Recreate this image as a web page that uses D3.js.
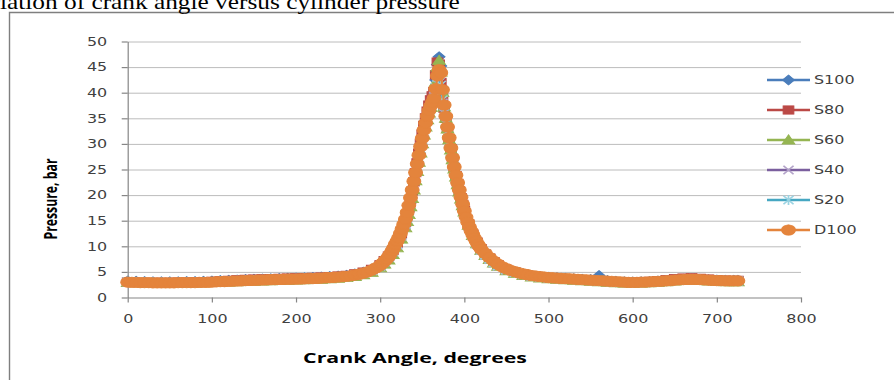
<!DOCTYPE html>
<html>
<head>
<meta charset="utf-8">
<script src="https://cdn.jsdelivr.net/npm/d3@7"></script>
<style>
  body { margin: 0; background: #fff; overflow: hidden; }
  svg { display: block; }
</style>
</head>
<body>
<div id="chart"></div>
<script>
// data
const angleD = [0,5,10,15,20,25,30,35,40,45,50,55,60,65,70,75,80,85,90,95,100,
  105,110,115,120,125,130,135,140,145,150,155,160,165,170,175,180,185,190,195,
  200,205,210,215,220,225,230,235,240,245,250,255,260,265,270,275,280,285,290,295,300,
  302,304,306,308,310,312,314,316,318,320,322,324,326,328,330,332,334,336,338,340,
  342,344,346,348,350,352,354,356,358,360,362,364,366,368,370,372,374,376,378,380,
  382,384,386,388,390,392,394,396,398,400,402,404,406,408,410,412,414,416,418,420,
  425,430,435,440,445,450,455,460,465,470,475,480,485,490,495,500,505,510,515,520,
  525,530,535,540,545,550,555,560,565,570,575,580,585,590,595,600,605,610,615,620,
  625,630,635,640,645,650,655,660,665,670,675,680,685,690,695,700,705,710,715,720,725];

const D100 = [3.0,2.95,2.95,2.9,2.9,2.9,2.85,2.85,2.85,2.85,2.85,2.85,2.9,2.9,2.9,2.9,2.9,2.95,2.95,2.95,3.0,
  3.05,3.1,3.12,3.15,3.2,3.22,3.25,3.3,3.32,3.35,3.4,3.42,3.45,3.48,3.5,3.52,3.55,3.57,3.58,
  3.6,3.62,3.65,3.68,3.7,3.75,3.8,3.85,3.9,3.95,4.0,4.05,4.15,4.25,4.4,4.55,4.75,5.0,5.35,5.8,6.3,
  6.6,6.9,7.25,7.6,8.0,8.5,9.1,9.7,10.4,11.0,11.7,12.5,13.4,14.3,15.3,16.6,18.0,19.5,21.0,22.7,
  24.4,26.1,27.8,29.5,31.1,32.7,34.1,35.4,36.5,37.4,38.1,38.9,40.8,43.3,44.5,43.9,40.6,37.6,35.4,33.3,
  31.2,29.2,27.3,25.5,23.9,22.4,21.0,19.6,18.2,16.9,15.7,14.7,13.8,13.0,12.3,11.6,11.0,10.4,9.9,9.4,
  8.6,7.8,7.1,6.5,6.0,5.6,5.3,5.05,4.8,4.6,4.45,4.3,4.2,4.1,4.0,3.9,3.85,3.8,3.75,3.7,
  3.65,3.6,3.55,3.5,3.45,3.4,3.35,3.3,3.25,3.2,3.15,3.1,3.05,3.0,2.95,2.95,2.95,3.0,3.0,3.05,
  3.1,3.15,3.2,3.25,3.3,3.4,3.45,3.5,3.55,3.55,3.55,3.5,3.45,3.4,3.35,3.3,3.3,3.25,3.25,3.25,3.25];

const angleS = [0,10,20,30,40,50,60,70,80,90,100,
  110,120,130,140,150,160,170,180,190,200,
  210,220,230,240,250,260,270,280,290,300,
  305,310,315,320,325,330,
  332,334,336,338,340,342,344,346,348,350,352,354,356,358,360,362,364,366,368,370,
  372,374,376,378,380,382,384,386,388,390,392,394,396,398,400,
  405,410,415,420,425,430,435,440,
  450,460,470,480,490,500,510,520,530,540,550,560,570,580,590,600,610,620,630,640,
  650,660,670,680,690,700,710,720,725];

const S100 = [3.2,3.15,3.1,3.05,3.05,3.05,3.05,3.1,3.1,3.15,3.2,
  3.3,3.35,3.4,3.5,3.55,3.6,3.65,3.7,3.75,3.8,
  3.85,3.9,4.0,4.1,4.2,4.35,4.6,4.95,5.55,6.5,
  7.3,8.2,9.4,10.9,12.8,15.2,
  16.4,17.8,19.3,20.9,22.6,24.3,26.0,27.8,29.6,31.3,32.9,34.3,35.6,36.7,37.7,38.6,40.0,42.5,45.5,47.0,
  45.2,41.0,37.8,35.5,33.4,31.3,29.3,27.4,25.6,24.0,22.5,21.1,19.7,18.4,17.1,
  14.5,12.5,10.9,9.6,8.6,7.8,7.1,6.5,
  5.6,5.05,4.6,4.3,4.1,3.95,3.85,3.75,3.65,3.55,3.5,4.3,3.3,3.15,3.05,3.0,3.05,3.1,3.2,3.3,
  3.45,3.55,3.6,3.55,3.45,3.4,3.35,3.35,3.35];

const S80 = [3.05,3.0,2.95,2.95,2.95,2.95,3.0,3.0,3.05,3.1,3.15,
  3.25,3.35,3.45,3.55,3.6,3.65,3.7,3.75,3.8,3.85,
  3.9,3.95,4.0,4.1,4.2,4.35,4.6,4.95,5.5,6.4,
  7.2,8.1,9.2,10.6,12.4,14.7,
  16.0,17.5,19.1,20.8,22.6,24.4,26.3,28.2,30.1,31.9,33.6,35.1,36.4,37.6,38.6,39.4,40.2,43.5,46.0,45.6,
  42.0,39.0,37.0,35.0,33.0,31.0,29.1,27.2,25.4,23.8,22.3,20.9,19.5,18.2,17.0,
  14.4,12.4,10.8,9.5,8.5,7.7,7.0,6.4,
  5.5,5.0,4.55,4.25,4.05,3.9,3.8,3.7,3.6,3.5,3.4,3.3,3.2,3.1,3.05,3.0,3.05,3.15,3.3,3.5,
  3.7,3.8,3.85,3.75,3.6,3.45,3.4,3.35,3.35];

const S60 = [2.9,2.85,2.8,2.8,2.75,2.75,2.75,2.8,2.8,2.85,2.9,
  2.95,3.0,3.05,3.1,3.15,3.2,3.25,3.3,3.35,3.4,
  3.45,3.5,3.55,3.65,3.75,3.9,4.1,4.4,4.9,5.8,
  6.5,7.3,8.4,9.7,11.4,13.6,
  14.8,16.2,17.7,19.3,21.0,22.8,24.6,26.4,28.2,30.0,31.7,33.3,34.7,36.0,37.1,38.0,39.3,42.0,45.0,46.3,
  44.0,40.0,37.2,35.0,32.9,30.8,28.8,26.9,25.1,23.5,22.0,20.6,19.2,17.9,16.7,
  14.1,12.1,10.5,9.2,8.2,7.4,6.7,6.1,
  5.2,4.7,4.3,4.0,3.8,3.65,3.55,3.45,3.35,3.25,3.15,3.05,2.95,2.85,2.8,2.75,2.8,2.85,2.95,3.05,
  3.2,3.3,3.35,3.3,3.2,3.1,3.05,3.05,3.05];

const S40 = [3.0,2.95,2.9,2.9,2.85,2.85,2.85,2.9,2.9,2.95,3.0,
  3.1,3.15,3.2,3.3,3.35,3.4,3.45,3.5,3.55,3.6,
  3.65,3.7,3.75,3.85,3.95,4.1,4.35,4.65,5.2,6.1,
  6.9,7.8,8.9,10.3,12.0,14.2,
  15.5,16.9,18.4,20.0,21.7,23.4,25.2,27.0,28.8,30.5,32.1,33.6,35.0,36.2,37.3,38.3,39.4,40.6,41.8,42.0,
  40.5,38.0,36.0,34.0,32.0,30.1,28.2,26.4,24.7,23.1,21.6,20.2,18.9,17.6,16.4,
  13.9,12.0,10.4,9.2,8.2,7.4,6.7,6.1,
  5.3,4.8,4.4,4.1,3.9,3.75,3.65,3.55,3.45,3.35,3.25,3.15,3.05,2.95,2.9,2.85,2.9,2.95,3.05,3.2,
  3.35,3.45,3.5,3.45,3.35,3.25,3.2,3.2,3.2];

const S20 = [3.1,3.05,3.0,2.95,2.95,2.9,2.9,2.95,2.95,3.0,3.05,
  3.15,3.2,3.25,3.35,3.4,3.45,3.5,3.55,3.6,3.65,
  3.7,3.75,3.8,3.9,4.0,4.15,4.4,4.7,5.25,6.2,
  7.0,7.9,9.0,10.4,12.2,14.4,
  15.7,17.1,18.6,20.2,21.9,23.6,25.4,27.2,29.0,30.7,32.3,33.8,35.1,36.3,37.3,38.1,39.0,41.0,43.0,43.5,
  41.5,38.6,36.4,34.3,32.3,30.3,28.4,26.6,24.9,23.3,21.8,20.4,19.0,17.7,16.5,
  14.0,12.1,10.5,9.3,8.3,7.5,6.8,6.2,
  5.4,4.9,4.5,4.2,4.0,3.8,3.7,3.6,3.5,3.4,3.3,3.2,3.1,3.0,2.95,2.9,2.95,3.0,3.1,3.25,
  3.4,3.5,3.55,3.5,3.4,3.3,3.25,3.25,3.25];

const seriesNames = ["S100", "S80", "S60", "S40", "S20", "D100"];
const xTicks = [0, 100, 200, 300, 400, 500, 600, 700, 800];
const yTicks = [0, 5, 10, 15, 20, 25, 30, 35, 40, 45, 50];
const titleText = "Variation of crank angle versus cylinder pressure";
const xTitle = "Crank Angle, degrees";
const yTitle = "Pressure, bar";

// build series from the arrays above
const series = [
  { name: seriesNames[0], xs: angleS, ys: S100, color: "#4a7dbb", mcolor: "#4a7dbb", marker: "diamond" },
  { name: seriesNames[1], xs: angleS, ys: S80,  color: "#bb4946", mcolor: "#bb4946", marker: "square" },
  { name: seriesNames[2], xs: angleS, ys: S60,  color: "#95b552", mcolor: "#95b552", marker: "triangle" },
  { name: seriesNames[3], xs: angleS, ys: S40,  color: "#7b5f9e", mcolor: "#b3a3c9", marker: "x" },
  { name: seriesNames[4], xs: angleS, ys: S20,  color: "#46a7c2", mcolor: "#9ad3e2", marker: "star" },
  { name: seriesNames[5], xs: angleD, ys: D100, color: "#e4843c", mcolor: "#e4843c", marker: "circle" }
];
series.forEach(s => {
  if (s.xs.length !== s.ys.length) console.warn(s.name, s.xs.length, s.ys.length);
  s.points = s.xs.map((a, i) => [a, s.ys[i]]).filter(p => p[1] != null);
});

const w = 894, h = 380;
const stretch = 1.33; // the picture is a bit wide, text and markers too

const svg = d3.select("#chart").append("svg")
  .attr("width", w)
  .attr("height", h);

const x = d3.scaleLinear().domain([0, 800]).range([127.7, 801]);
const y = d3.scaleLinear().domain([0, 50]).range([297.5, 41.5]);

//frame
svg.append("path")
  .attr("d", "M9.5,380 V12.5 H894")
  .attr("fill", "none")
  .attr("stroke", "#7f7f7f")
  .attr("stroke-width", 1.4);

// title, cut off at the left like the scan
const tg = svg.append("g");
tg.append("text")
  .attr("font-family", "'Liberation Serif', 'Times New Roman', serif")
  .attr("font-size", 20)
  .attr("fill", "#000")
  .text(titleText);
const measure = (str) => {
  const t = tg.append("text").attr("font-family", "'Liberation Serif', serif").attr("font-size", 20).text(str);
  const len = t.node().getComputedTextLength();
  t.remove();
  return len;
};
const wCut = measure("Var");
const wPart = measure("iation of crank angle versus cylinder pressure");
const kT = 460 / wPart;
tg.attr("transform", "translate(" + (-kT * wCut) + ",9) scale(" + kT + ",1)");

// grid
svg.append("g")
  .selectAll("line")
  .data(yTicks.filter(t => t > 0))
  .enter()
  .append("line")
  .attr("x1", x(0))
  .attr("x2", x(800))
  .attr("y1", d => y(d) + 0.5)
  .attr("y2", d => y(d) + 0.5)
  .attr("stroke", "#bcbcbc")
  .attr("stroke-width", 1);

// axes
const yAxis = d3.axisLeft(y).tickValues(yTicks).tickSize(6).tickSizeOuter(0);
const xAxis = d3.axisBottom(x).tickValues(xTicks).tickSize(5).tickSizeOuter(0);

const gy = svg.append("g")
  .attr("transform", "translate(" + x(0) + ",0)")
  .call(yAxis);
const gx = svg.append("g")
  .attr("transform", "translate(0," + y(0) + ")")
  .call(xAxis);

[gx, gy].forEach(g => {
  g.select(".domain").attr("stroke", "#868686").attr("stroke-width", 1.2);
  g.selectAll(".tick line").attr("stroke", "#868686").attr("stroke-width", 1.2);
  g.selectAll(".tick text")
    .attr("font-family", "'DejaVu Sans', Verdana, sans-serif")
    .attr("font-size", 12)
    .attr("fill", "#404040");
});
gy.selectAll(".tick text")
  .attr("x", -20.5 / stretch)
  .attr("transform", "scale(" + stretch + ",1)");
gx.selectAll(".tick text")
  .attr("y", 25.5)
  .attr("dy", 0)
  .attr("transform", "scale(" + stretch + ",1)");

// axis titles
const xt = svg.append("g");
const xtText = xt.append("text")
  .attr("text-anchor", "middle")
  .attr("font-family", "'Open Sans', sans-serif")
  .attr("font-weight", "bold")
  .attr("font-size", 13.5)
  .attr("fill", "#000")
  .text(xTitle);
const kx = 224 / xtText.node().getComputedTextLength();
xt.attr("transform", "translate(415,363) scale(" + kx + ",1)");

svg.append("g")
  .attr("transform", "translate(51,199) scale(" + stretch + ",1) rotate(-90)")
  .append("text")
  .attr("text-anchor", "middle")
  .attr("dy", "0.35em")
  .attr("font-family", "'Open Sans', sans-serif")
  .attr("font-weight", "bold")
  .attr("font-size", 13)
  .attr("textLength", 81)
  .attr("lengthAdjust", "spacingAndGlyphs")
  .attr("fill", "#000")
  .text(yTitle);

// markers
function markerPath(type) {
  switch (type) {
    case "diamond": return "M0,-5L4.5,0L0,5L-4.5,0Z";
    case "square": return "M-4,-4.2H4V4.2H-4Z";
    case "triangle": return "M0,-5.2L4.8,4H-4.8Z";
    case "x": return "M-3.8,-4.2L3.8,4.2M-3.8,4.2L3.8,-4.2";
    case "star": return "M-3.8,-4.2L3.8,4.2M-3.8,4.2L3.8,-4.2M0,-5V5";
    default: return d3.symbol(d3.symbolCircle, Math.PI * 5.2 * 5.2)();
  }
}
const strokeOnly = t => t === "x" || t === "star";

const line = d3.line().x(d => x(d[0])).y(d => y(d[1]));

const plot = svg.append("g");
series.forEach(s => {
  const g = plot.append("g");
  g.append("path")
    .datum(s.points)
    .attr("d", line)
    .attr("fill", "none")
    .attr("stroke", s.color)
    .attr("stroke-width", 2.25)
    .attr("stroke-linejoin", "round");
  g.selectAll(".m")
    .data(s.points)
    .enter()
    .append("path")
    .attr("class", "m")
    .attr("d", markerPath(s.marker))
    .attr("transform", d => "translate(" + x(d[0]) + "," + y(d[1]) + ") scale(" + stretch + ",1)")
    .attr("fill", strokeOnly(s.marker) ? "none" : s.mcolor)
    .attr("stroke", s.mcolor)
    .attr("stroke-width", strokeOnly(s.marker) ? 1.3 : 0.8);
});

// legend
const legend = svg.append("g");
series.forEach((s, i) => {
  const ly = 80 + i * 30;
  const g = legend.append("g").attr("transform", "translate(0," + ly + ")");
  g.append("line")
    .attr("x1", 767).attr("x2", 810)
    .attr("y1", 0).attr("y2", 0)
    .attr("stroke", s.color)
    .attr("stroke-width", 2.5);
  g.append("path")
    .attr("d", markerPath(s.marker))
    .attr("transform", "translate(788.5,0) scale(" + stretch + ",1)")
    .attr("fill", strokeOnly(s.marker) ? "none" : s.mcolor)
    .attr("stroke", s.mcolor)
    .attr("stroke-width", strokeOnly(s.marker) ? 1.3 : 0.8);
  g.append("text")
    .attr("transform", "translate(814,0) scale(" + stretch + ",1)")
    .attr("dy", "0.36em")
    .attr("font-family", "'DejaVu Sans', Verdana, sans-serif")
    .attr("font-size", 12)
    .attr("fill", "#404040")
    .text(s.name);
});
</script>
</body>
</html>
